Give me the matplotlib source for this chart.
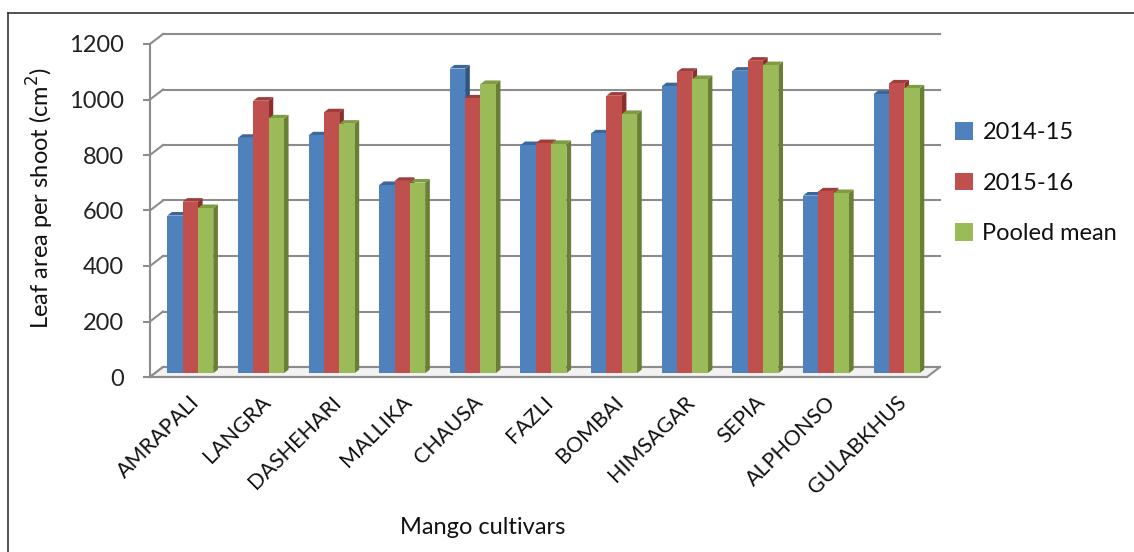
import matplotlib.pyplot as plt
import numpy as np
from matplotlib.patches import Polygon, Rectangle, Patch
from matplotlib.lines import Line2D

plt.rcParams['font.family'] = ['Lato', 'DejaVu Sans']

cultivars = ['AMRAPALI', 'LANGRA', 'DASHEHARI', 'MALLIKA', 'CHAUSA', 'FAZLI',
             'BOMBAI', 'HIMSAGAR', 'SEPIA', 'ALPHONSO', 'GULABKHUS']
leaf_2014 = [568, 848, 857, 678, 1098, 822, 864, 1034, 1090, 640, 1006]
leaf_2015 = [618, 982, 940, 693, 990, 829, 1000, 1086, 1126, 655, 1044]
leaf_pooled = [595, 918, 899, 687, 1042, 826, 934, 1060, 1110, 649, 1026]
series_names = ['2014-15', '2015-16', 'Pooled mean']

# front, top, side colours for each series
colours = [('#4F81BD', '#3B679C', '#2F5583'),
           ('#C0504D', '#A03C3A', '#8A2F2D'),
           ('#9BBB59', '#7E9C42', '#697F35')]

W, H = 1134, 552
fig = plt.figure(figsize=(W / 100, H / 100), dpi=100)

# plot area (front plane) in pixels
x_left, x_right = 150, 927
y_top, y_bot = 44, 377
ax = fig.add_axes([x_left / W, 1 - y_bot / H, (x_right - x_left) / W, (y_bot - y_top) / H])
n = len(cultivars)
ax.set_xlim(-0.5, n - 0.5)
ax.set_ylim(0, 1200)

px_x = n / (x_right - x_left)        # category units per pixel
px_y = 1200 / (y_bot - y_top)        # data units per pixel

# depth of the back wall and of the bars
wall_dx, wall_dy = 13 * px_x, 10 * px_y
bar_f0, bar_f1 = 0.38, 0.74

grid_col = '#8C8C8C'
yticks = np.arange(0, 1201, 200)

# back wall gridlines and the connectors on the side wall
for v in yticks:
    ax.plot([-0.5, -0.5 + wall_dx], [v, v + wall_dy], color=grid_col, lw=1.5, clip_on=False, zorder=1)
    ax.plot([-0.5 + wall_dx, n - 0.5 + wall_dx], [v + wall_dy, v + wall_dy],
            color=grid_col, lw=1.5, clip_on=False, zorder=1)
# floor
floor = Polygon([(-0.5, 0), (n - 0.5, 0), (n - 0.5 + wall_dx, wall_dy), (-0.5 + wall_dx, wall_dy)],
                closed=True, facecolor='#F2F2F2', edgecolor=grid_col, lw=1.5, clip_on=False, zorder=1)
ax.add_patch(floor)

bw = 0.217
series = [leaf_2014, leaf_2015, leaf_pooled]
for i in range(n):
    for s, vals in enumerate(series):
        front, top, side = colours[s]
        x0 = i - 1.5 * bw + s * bw + wall_dx * bar_f0
        y0 = wall_dy * bar_f0
        y1 = vals[i] + wall_dy * bar_f0
        ddx = wall_dx * (bar_f1 - bar_f0)
        ddy = wall_dy * (bar_f1 - bar_f0)
        ax.add_patch(Polygon([(x0 + bw, y0), (x0 + bw + ddx, y0 + ddy), (x0 + bw + ddx, y1 + ddy), (x0 + bw, y1)],
                             closed=True, facecolor=side, edgecolor='none', clip_on=False, zorder=3))
        ax.add_patch(Polygon([(x0, y1), (x0 + bw, y1), (x0 + bw + ddx, y1 + ddy), (x0 + ddx, y1 + ddy)],
                             closed=True, facecolor=top, edgecolor='none', clip_on=False, zorder=3))
        ax.add_patch(Rectangle((x0, y0), bw, vals[i], facecolor=front, edgecolor='none',
                               clip_on=False, zorder=3))

for sp in ['top', 'right']:
    ax.spines[sp].set_visible(False)
ax.spines['left'].set_color(grid_col)
ax.spines['left'].set_linewidth(1.5)
ax.spines['bottom'].set_color(grid_col)
ax.spines['bottom'].set_linewidth(1.5)
ax.set_facecolor('none')

ax.set_yticks(yticks)
ax.set_yticklabels([str(v) for v in yticks])
ax.tick_params(axis='y', direction='out', length=5, width=1.5, color=grid_col,
               labelsize=17, pad=14, labelcolor='#222222')
ax.set_xticks(np.arange(n) + 0.06)
ax.set_xticklabels(cultivars, rotation=45, ha='right', rotation_mode='anchor')
ax.tick_params(axis='x', length=0, labelsize=15.5, pad=11, labelcolor='#111111')

fig.text(40 / W, 1 - 198 / H, 'Leaf area per shoot (cm$^2$)', rotation=90,
         ha='center', va='center', fontsize=17, color='#111111')
fig.text(483 / W, 1 - 528 / H, 'Mango cultivars', ha='center', va='center',
         fontsize=17, color='#111111')

handles = [Patch(facecolor=c[0], edgecolor='none') for c in colours]
fig.legend(handles, series_names, loc='upper left', bbox_to_anchor=(934 / W, 1 - 101 / H),
           frameon=False, fontsize=17, handlelength=0.75, handleheight=0.75,
           handletextpad=0.4, labelspacing=1.25, labelcolor='#111111')

# chart border
fig.add_artist(Line2D([8 / W, 8 / W], [0, 1 - 13 / H], color='#333333', lw=1.2))
fig.add_artist(Line2D([8 / W, 1], [1 - 13 / H, 1 - 13 / H], color='#333333', lw=1.2))

fig.savefig('out.png', dpi=100)
